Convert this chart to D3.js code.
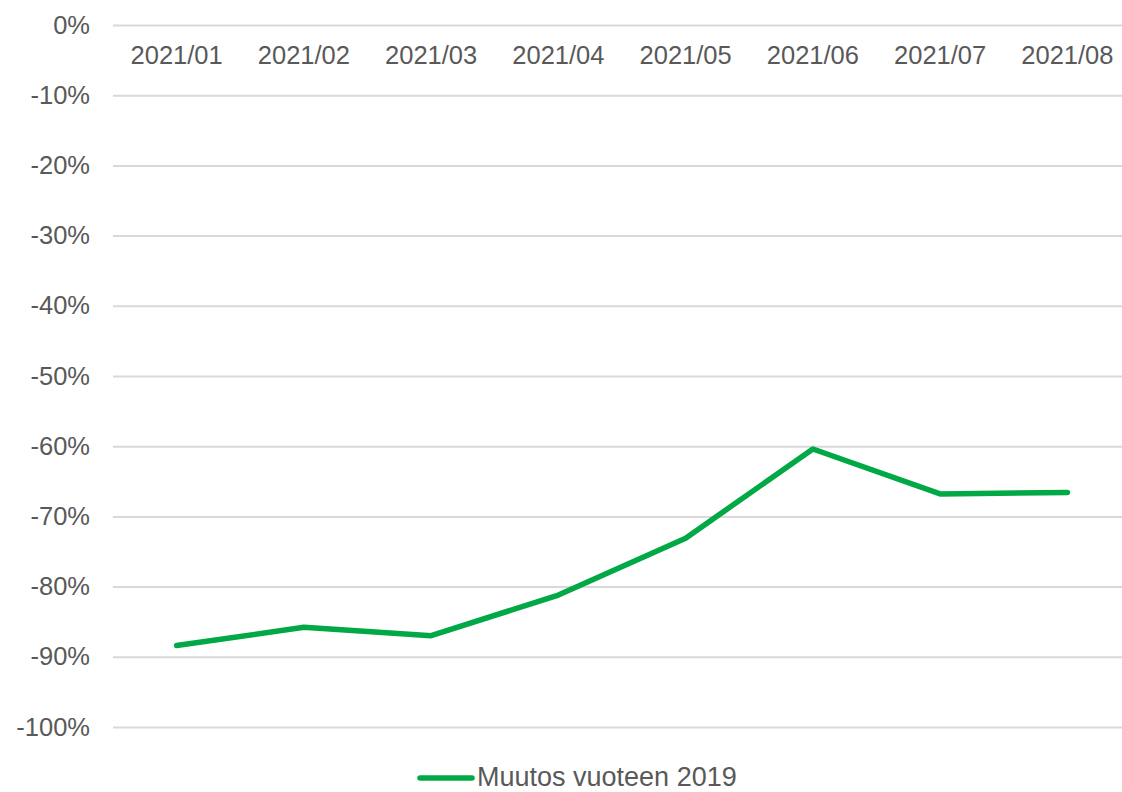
<!DOCTYPE html>
<html>
<head>
<meta charset="utf-8">
<script src="https://cdn.jsdelivr.net/npm/d3@7"></script>
<style>
  html, body { margin: 0; padding: 0; background: #fff; }
  svg { display: block; font-family: "Liberation Sans", Arial, sans-serif; }
</style>
</head>
<body>
<svg id="chart" width="1122" height="792"></svg>
<script>
const categories = ["2021/01", "2021/02", "2021/03", "2021/04", "2021/05", "2021/06", "2021/07", "2021/08"];
const values = [-88.4, -85.8, -87.0, -81.2, -73.1, -60.4, -66.8, -66.6];
const yTicks = [0, -10, -20, -30, -40, -50, -60, -70, -80, -90, -100];
const seriesName = "Muutos vuoteen 2019";

const svg = d3.select("#chart");
const W = 1122, H = 792;
const plotLeft = 113, plotRight = 1131;

const x = d3.scaleBand().domain(categories).range([plotLeft, plotRight]);
const y = d3.scaleLinear().domain([-100, 0]).range([727, 25]);

const textColor = "#595959";
const green = "#00a846";
const fontSize = 25.5;

// gridlines
const grid = d3.axisLeft(y).tickValues(yTicks).tickSize(-(plotRight - plotLeft)).tickFormat("");
svg.append("g").attr("transform", `translate(${plotLeft},0)`).call(grid)
  .call(g => g.select(".domain").remove())
  .call(g => g.selectAll("line").attr("stroke", "#d9d9d9").attr("stroke-width", 2));

// y labels
const yAxis = d3.axisLeft(y).tickValues(yTicks).tickSize(0).tickPadding(23).tickFormat(d => d + "%");
svg.append("g").attr("transform", `translate(${plotLeft},0)`).call(yAxis)
  .call(g => g.select(".domain").remove())
  .call(g => g.selectAll("text").attr("fill", textColor).attr("font-size", fontSize).attr("font-family", "Liberation Sans, Arial, sans-serif"));

// x labels (at 0 line)
const xAxis = d3.axisBottom(x).tickSize(0).tickPadding(21);
svg.append("g").attr("transform", `translate(0,${y(0)})`).call(xAxis)
  .call(g => g.select(".domain").remove())
  .call(g => g.selectAll("text").attr("fill", textColor).attr("font-size", fontSize).attr("font-family", "Liberation Sans, Arial, sans-serif"));

// line
const line = d3.line().x((d, i) => x(categories[i]) + x.bandwidth() / 2).y(d => y(d));
svg.append("path").datum(values).attr("d", line)
  .attr("fill", "none").attr("stroke", green).attr("stroke-width", 5.5)
  .attr("stroke-linejoin", "round").attr("stroke-linecap", "round");

// legend
const lg = svg.append("g");
lg.append("line").attr("x1", 420).attr("x2", 472).attr("y1", 778).attr("y2", 778)
  .attr("stroke", green).attr("stroke-width", 5.5).attr("stroke-linecap", "round");
lg.append("text").attr("x", 477).attr("y", 786).attr("fill", textColor)
  .attr("font-size", 27).text(seriesName);
</script>
</body>
</html>
